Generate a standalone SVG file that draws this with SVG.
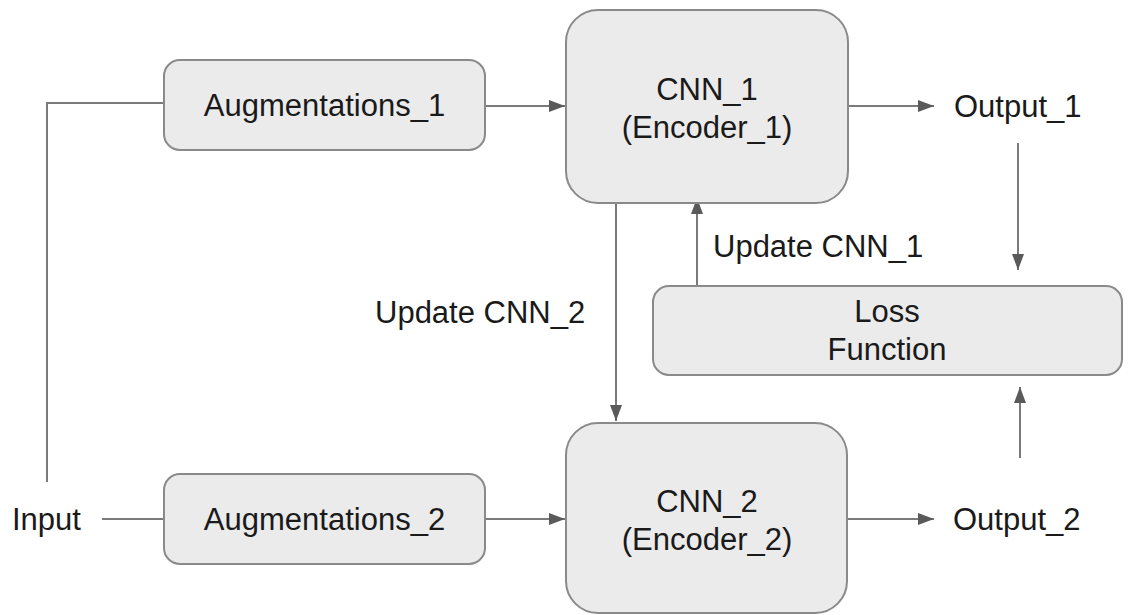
<svg xmlns="http://www.w3.org/2000/svg" width="1128" height="615" viewBox="0 0 1128 615">
  <style>
    .box { fill: #ebebeb; stroke: #8a8a8a; stroke-width: 2; }
    .lbl { font-family: "Liberation Sans", Arial, sans-serif; font-size: 31px; fill: #1a1a1a; }
    .mid { text-anchor: middle; }
    .wire { fill: none; stroke: #7a7a7a; stroke-width: 2; }
  </style>
  <defs>
    <marker id="head" markerUnits="userSpaceOnUse" markerWidth="16" markerHeight="12" refX="16" refY="6" orient="auto">
      <path d="M0,0 L16,6 L0,12 Z" fill="#5a5a5a"/>
    </marker>
  </defs>
  <rect width="1128" height="615" fill="#ffffff"/>

  <!-- connectors -->
  <g id="connectors">
    <polyline class="wire" points="47,482 47,103 164,103"/>
    <line class="wire" x1="102" y1="519" x2="164" y2="519"/>
    <line class="wire" x1="485" y1="106" x2="565" y2="106" marker-end="url(#head)"/>
    <line class="wire" x1="485" y1="519" x2="565" y2="519" marker-end="url(#head)"/>
    <line class="wire" x1="848" y1="106" x2="934" y2="106" marker-end="url(#head)"/>
    <line class="wire" x1="847" y1="519" x2="934" y2="519" marker-end="url(#head)"/>
    <line class="wire" x1="1018" y1="143" x2="1018" y2="270" marker-end="url(#head)"/>
    <line class="wire" x1="1020" y1="458" x2="1020" y2="387" marker-end="url(#head)"/>
    <line class="wire" x1="697" y1="286" x2="697" y2="198" marker-end="url(#head)"/>
    <line class="wire" x1="616" y1="203" x2="616" y2="421" marker-end="url(#head)"/>
    <text class="lbl" x="713" y="257">Update CNN_1</text>
    <text class="lbl" x="375" y="323">Update CNN_2</text>
  </g>

  <g id="input">
    <text class="lbl" x="12" y="530">Input</text>
  </g>

  <g id="augmentations_1">
    <rect class="box" x="164" y="60" width="321" height="90" rx="16"/>
    <text class="lbl mid" x="324.5" y="116">Augmentations_1</text>
  </g>

  <g id="augmentations_2">
    <rect class="box" x="164" y="474" width="321" height="90" rx="16"/>
    <text class="lbl mid" x="324.5" y="530">Augmentations_2</text>
  </g>

  <g id="cnn_1">
    <rect class="box" x="566" y="10" width="282" height="193" rx="32"/>
    <text class="lbl mid" x="707" y="100">CNN_1</text>
    <text class="lbl mid" x="707" y="138">(Encoder_1)</text>
  </g>

  <g id="cnn_2">
    <rect class="box" x="566" y="423" width="281" height="190" rx="32"/>
    <text class="lbl mid" x="707" y="512">CNN_2</text>
    <text class="lbl mid" x="707" y="550">(Encoder_2)</text>
  </g>

  <g id="output_1">
    <text class="lbl" x="954" y="117">Output_1</text>
  </g>

  <g id="output_2">
    <text class="lbl" x="953" y="530">Output_2</text>
  </g>

  <g id="loss_function">
    <rect class="box" x="653" y="286" width="469" height="89" rx="16"/>
    <text class="lbl mid" x="887" y="322">Loss</text>
    <text class="lbl mid" x="887" y="360">Function</text>
  </g>
</svg>
